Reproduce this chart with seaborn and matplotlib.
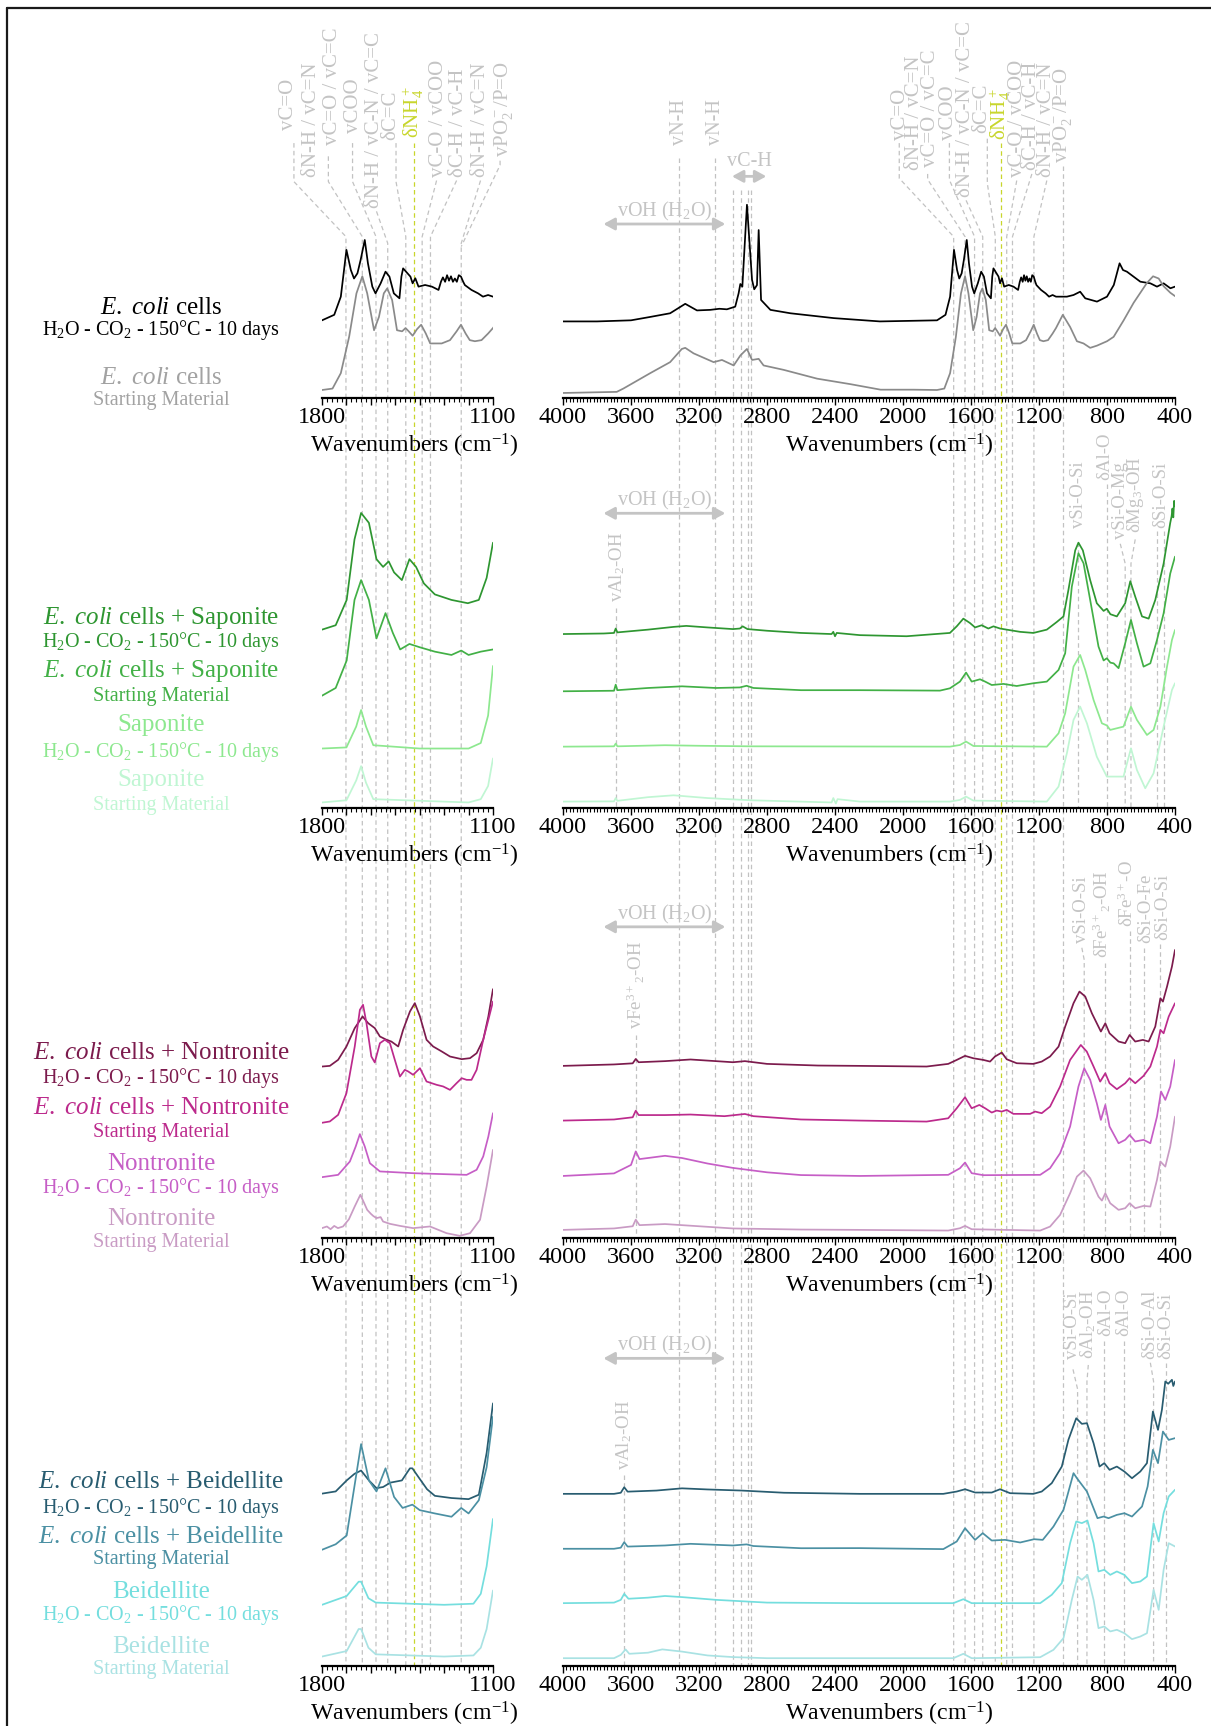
import matplotlib
matplotlib.use("Agg")
import matplotlib.pyplot as plt
import seaborn as sns
import pandas as pd
from matplotlib.lines import Line2D
from matplotlib.ticker import MultipleLocator, FixedLocator, FixedFormatter

# ------------------------------------------------------------------
# FTIR spectra (wavenumber in cm-1, absorbance in arbitrary units)
# ------------------------------------------------------------------
# E. coli cells, full range (4000-400 cm-1)
ecoli_h2o = [(4000, 0), (3800, 0), (3600, 1), (3490, 4), (3370, 7.4), (3281, 16), (3212, 10),
             (3134, 10.5), (3080, 11.5), (3036, 11), (2987, 13.4), (2967, 25.5), (2957, 34),
             (2945, 31.6), (2918, 106), (2888, 37.7), (2875, 29.2), (2859, 33), (2849, 83),
             (2835, 19.5), (2780, 10.5), (2662, 7.4), (2407, 3), (2136, 0), (1800, 1), (1750, 6),
             (1723, 22.5), (1700, 65), (1682, 46.7), (1669, 39), (1655, 43.7), (1642, 55.8),
             (1625, 74), (1612, 52.8), (1594, 31.6), (1581, 25.5), (1560, 34.6), (1540, 45.2),
             (1524, 40.7), (1506, 25.5), (1483, 21), (1475, 40.7), (1468, 48.2), (1456, 45.2),
             (1438, 40.7), (1429, 34.6), (1418, 39.2), (1405, 31.6), (1378, 33.1), (1350, 31.6),
             (1323, 28.6), (1313, 36.1), (1305, 40), (1296, 36), (1288, 42), (1280, 37), (1272, 41),
             (1264, 36), (1256, 39), (1248, 36), (1240, 42), (1231, 40.7), (1222, 36), (1215, 33),
             (1188, 28.6), (1161, 25.5), (1141, 22.5), (1120, 24), (1100, 22.5), (1036, 22.5),
             (997, 24), (958, 27), (928, 21), (859, 18), (800, 22.5), (760, 33.1), (726, 52.8),
             (706, 46.7), (683, 45.2), (604, 36.1), (545, 34.6), (506, 31.6), (467, 34.6),
             (427, 30.1), (400, 31.6)]
ecoli_sm = [(4000, 0), (3684, 1), (3645, 4), (3487, 18), (3370, 28), (3301, 40), (3281, 41),
            (3232, 36), (3114, 28), (3065, 30), (2996, 25), (2957, 34), (2918, 40), (2888, 30),
            (2849, 31), (2820, 25), (2702, 21), (2505, 13), (2309, 8), (2132, 3), (1940, 3),
            (1800, 2.7), (1757, 4), (1723, 18), (1689, 51), (1659, 90.5), (1635, 106), (1615, 90.5),
            (1587, 57), (1567, 69), (1547, 90.5), (1533, 95), (1513, 84.5), (1493, 57), (1472, 56),
            (1458, 59), (1445, 56), (1429, 52), (1411, 58), (1394, 62), (1375, 54), (1357, 45),
            (1310, 45), (1276, 48), (1249, 56), (1231, 62), (1212, 54), (1195, 48), (1174, 47),
            (1147, 48), (1120, 54), (1100, 59), (1060, 71), (1017, 60), (977, 47), (938, 45),
            (899, 41), (859, 43), (800, 47), (761, 51), (702, 66), (643, 82), (565, 100), (529, 106),
            (496, 104), (467, 97), (427, 91), (400, 88)]

# Saponite series, full range
sap_ecoli_h2o = [(4000, 1), (3760, 1.5), (3700, 2), (3690, 6), (3680, 2.5), (3500, 5), (3350, 7.5),
                 (3275, 8.4), (3150, 7), (3000, 5.5), (2960, 6), (2943, 8), (2915, 5.5), (2800, 4),
                 (2600, 2), (2420, 1), (2410, 3), (2400, -1), (2390, 2), (2254, 0), (1979, -1),
                 (1724, 2), (1684, 8), (1645, 15), (1606, 11), (1576, 7), (1537, 9), (1498, 6),
                 (1468, 8), (1429, 6), (1390, 5), (1311, 3), (1233, 2), (1154, 5), (1095, 12),
                 (1056, 17), (1027, 41), (987, 77), (968, 84), (942, 77), (899, 50), (860, 29),
                 (820, 22), (801, 24), (780, 19), (742, 17), (693, 29), (663, 49), (634, 35),
                 (594, 17), (555, 15), (516, 32), (467, 65), (428, 102), (420, 108), (415, 115),
                 (410, 107), (405, 122), (400, 117)]
sap_ecoli_sm = [(4000, 0), (3700, 0.5), (3690, 6), (3680, 1), (3500, 3), (3300, 4.5), (3100, 3),
                (2960, 3.5), (2920, 5), (2880, 3), (2600, 1), (2254, 1), (1783, 0.6), (1724, 2.7),
                (1665, 8.8), (1629, 17), (1596, 8.8), (1547, 10.9), (1517, 8.8), (1478, 5.7),
                (1409, 6.7), (1331, 4.8), (1233, 7.3), (1154, 8.8), (1085, 19.4), (1046, 34.5),
                (1007, 95), (968, 125.4), (938, 116.3), (899, 83), (850, 40.6), (820, 28), (801, 30),
                (780, 26), (761, 25.4), (732, 21), (693, 43.6), (659, 64.8), (624, 43.6), (585, 22.4),
                (545, 25.4), (506, 46.6), (467, 70.8), (428, 107), (400, 122.3)]
sap_h2o = [(4000, 0), (3700, 0.3), (3690, 2.8), (3680, 0.3), (3400, 1.3), (3200, 0.8), (2900, 0.3),
           (1724, 0), (1665, 1.5), (1629, 4.6), (1586, 0.6), (1154, 0), (1085, 12.1), (1046, 30.3),
           (997, 72.7), (958, 83.3), (928, 69.7), (879, 42.4), (830, 21.2), (801, 19.3), (781, 15.2),
           (703, 18.2), (659, 36.3), (624, 24.3), (565, 10.6), (526, 15.2), (486, 36.3), (447, 72.7),
           (418, 96.9), (400, 106)]
sap_sm = [(4000, 0), (3700, 0.2), (3690, 3.2), (3680, 0.7), (3500, 4), (3350, 5.7), (3150, 3.2),
          (2900, 1.2), (2420, -0.8), (2410, 3.2), (2395, -1.8), (2385, 2.2), (2254, 0), (1724, 0),
          (1665, 1.5), (1629, 4.5), (1586, 0.9), (1154, 0), (1085, 13.6), (1036, 43.9), (997, 74.2),
          (958, 86.3), (918, 71.1), (860, 40.8), (801, 22.7), (703, 22.7), (659, 48.4), (624, 28.7),
          (575, 12.1), (526, 25.7), (467, 68.1), (418, 101.4), (400, 107.5)]

# Saponite series, 1800-1100 cm-1 expansion
sap_ecoli_h2o_zoom = [(1800, 0), (1744, 4), (1699, 27), (1667, 82), (1640, 106), (1608, 97),
                      (1577, 64), (1550, 57), (1527, 62), (1505, 52), (1473, 45), (1442, 64),
                      (1415, 57), (1383, 42), (1338, 32), (1270, 27), (1203, 24), (1158, 27),
                      (1126, 47), (1100, 79)]
sap_ecoli_sm_zoom = [(1800, 0), (1744, 7), (1699, 32), (1667, 87), (1640, 105), (1608, 87),
                     (1577, 52), (1540, 75), (1510, 57), (1480, 42), (1442, 47), (1400, 44),
                     (1338, 40), (1270, 37), (1230, 41), (1200, 37), (1150, 40), (1100, 42)]
sap_h2o_zoom = [(1800, 0), (1700, 1), (1660, 20), (1640, 35), (1620, 20), (1590, 3), (1400, 0),
                (1200, 0), (1150, 5), (1120, 30), (1100, 75)]
sap_sm_zoom = [(1800, 0), (1700, 2), (1660, 20), (1640, 33), (1620, 18), (1590, 3), (1200, 0),
               (1150, 3), (1120, 15), (1100, 40)]

# Nontronite series, full range
non_ecoli_h2o = [(4000, 0), (3700, 1.3), (3590, 2.3), (3572, 6.3), (3555, 3.3), (3400, 4.3),
                 (3250, 5.8), (3000, 3.3), (2930, 4.3), (2800, 1.8), (2500, 0.3), (2254, 0),
                 (1861, -0.6), (1734, 1.8), (1684, 5.4), (1635, 9.1), (1586, 6.9), (1527, 5.4),
                 (1488, 3.9), (1459, 8.5), (1419, 12.1), (1390, 6), (1331, 2.4), (1233, 1.8),
                 (1184, 3.9), (1135, 8.5), (1085, 17.5), (1046, 35.7), (997, 56.9), (962, 67.5),
                 (928, 63), (889, 47.8), (860, 38.7), (836, 31.2), (810, 38.7), (785, 29.6),
                 (732, 22.1), (693, 20.6), (667, 28.1), (634, 22.1), (589, 23.6), (555, 22.1),
                 (516, 35.7), (486, 61.4), (471, 58.4), (447, 72), (418, 90.2), (400, 105.3)]
non_ecoli_sm = [(4000, 0), (3700, 1), (3590, 3), (3572, 9), (3555, 5), (3400, 5), (3250, 5.5),
                (3050, 4), (2930, 6), (2880, 4), (2600, 1), (2254, 0), (1861, -0.9), (1734, 2.1),
                (1684, 11.2), (1635, 21.2), (1596, 11.2), (1551, 14.2), (1517, 11.2), (1478, 7.3),
                (1449, 9.1), (1419, 8.2), (1390, 9.7), (1351, 6.1), (1252, 6.1), (1223, 8.2),
                (1184, 6.7), (1135, 12.7), (1076, 30.9), (1017, 55.1), (954, 68.7), (919, 62.7),
                (879, 49.1), (840, 35.4), (810, 43), (785, 33.9), (742, 28.5), (693, 33.9),
                (667, 38.5), (634, 33.9), (585, 40.6), (545, 49.1), (506, 67.2), (486, 82.4),
                (467, 79.3), (437, 94.5), (400, 106.6)]
non_h2o = [(4000, 0), (3700, 2.3), (3600, 10), (3572, 22.3), (3550, 15.3), (3500, 16.3),
           (3400, 18.3), (3300, 16.3), (3150, 11.3), (3000, 7.3), (2800, 3.3), (2600, 0.8),
           (2254, 0), (1734, 1), (1665, 7), (1635, 12.2), (1596, 2.5), (1527, 0.7), (1193, 1),
           (1135, 7), (1076, 20.6), (1017, 44.9), (968, 81.2), (934, 97.8), (899, 87.3), (860, 66.1),
           (836, 50.9), (810, 64.5), (785, 44.9), (732, 29.7), (693, 32.8), (667, 37.3), (634, 31.3),
           (585, 32.8), (545, 29.7), (506, 53.9), (482, 76.7), (457, 69.1), (428, 81.2), (400, 105.4)]
non_sm = [(4000, 0), (3700, 1.3), (3590, 3.3), (3572, 9.3), (3550, 4.3), (3400, 5.3), (3200, 3.3),
          (3000, 1.3), (2600, 0.3), (2254, 0), (1734, -0.6), (1665, 1.5), (1635, 3.6), (1596, 0.6),
          (1193, -0.6), (1135, 3), (1076, 13.6), (1017, 33.3), (977, 48.4), (938, 53.9), (899, 46.9),
          (850, 30.2), (830, 26.6), (810, 33.3), (781, 24.2), (732, 18.2), (693, 19.7), (667, 24.2),
          (634, 19.7), (585, 21.8), (545, 21.2), (506, 45.4), (486, 62.1), (457, 57.5), (428, 75.7),
          (400, 102.9)]

# Nontronite series, 1800-1100 cm-1 expansion
non_ecoli_h2o_zoom = [(1800, 0), (1768, 0.6), (1734, 6.1), (1700, 18.2), (1666, 34.9), (1634, 45.5),
                      (1611, 39.4), (1584, 34.9), (1563, 27.3), (1536, 24.3), (1516, 22.7),
                      (1488, 18.2), (1468, 33.3), (1440, 50), (1420, 57.6), (1399, 45.5),
                      (1372, 24.3), (1345, 18.2), (1310, 13.7), (1276, 9.1), (1228, 6.7),
                      (1194, 7.6), (1167, 12.1), (1140, 24.3), (1119, 45.5), (1100, 70.3)]
non_ecoli_sm_zoom = [(1800, 0), (1768, 1.2), (1734, 7.2), (1700, 26.9), (1666, 69.3), (1645, 102.6),
                     (1632, 107.2), (1618, 90.5), (1598, 60.2), (1584, 54.8), (1563, 72.3),
                     (1543, 75.4), (1522, 72.3), (1502, 57.2), (1481, 42), (1461, 48.1),
                     (1447, 46.6), (1427, 43.6), (1399, 49.6), (1372, 37.5), (1331, 34.5),
                     (1304, 33), (1276, 29.9), (1249, 36), (1228, 40.5), (1208, 39), (1188, 39),
                     (1167, 48.1), (1140, 75.4), (1119, 93.5), (1100, 110.2)]
non_h2o_zoom = [(1800, 0), (1734, 2.1), (1686, 14.2), (1662, 27.9), (1645, 39.1), (1625, 27.9),
                (1604, 12.7), (1563, 5.2), (1427, 3.6), (1208, 2.1), (1167, 6.7), (1140, 18.8),
                (1119, 36.9), (1100, 58.1)]
non_sm_zoom = [(1800, 0), (1780, 1.5), (1765, -1), (1750, 2), (1735, 0), (1714, 1.5), (1690, 8),
               (1666, 19.7), (1643, 30.3), (1630, 24), (1615, 16.6), (1600, 13), (1590, 11),
               (1577, 9.1), (1560, 10), (1550, 6), (1522, 3.9), (1480, 2), (1427, 0), (1358, 1.5),
               (1290, -4.6), (1236, -7), (1194, -4.6), (1153, 7.6), (1126, 37.8), (1100, 71.1)]

# Beidellite series, full range
bei_ecoli_h2o = [(4000, 0), (3700, 0), (3660, 1), (3640, 6), (3620, 2), (3450, 3), (3300, 5),
                 (3150, 4), (2950, 3), (2700, 1), (2254, 0), (1763, 0), (1684, 2.1), (1635, 4.2),
                 (1576, 1.2), (1478, 1.2), (1429, 4.2), (1370, 0.6), (1233, 0), (1184, 2.1),
                 (1125, 9.7), (1066, 24.8), (1027, 49.1), (981, 68.7), (948, 63.6), (918, 64.2),
                 (879, 46), (844, 24.8), (816, 27.9), (785, 21.8), (742, 24.8), (698, 20.3),
                 (653, 14.2), (604, 20.3), (565, 27.9), (530, 74.8), (500, 58.1), (477, 76.3),
                 (457, 102.1), (440, 100), (418, 103.6), (410, 98), (400, 102.1)]
bei_ecoli_sm = [(4000, 0), (3700, 0), (3660, 1), (3640, 6), (3620, 2), (3400, 3), (3250, 4.5),
                (3000, 3), (2920, 4), (2880, 2.5), (2600, 0.5), (2254, 0.6), (1763, -0.3),
                (1684, 6.6), (1635, 18.7), (1576, 8.1), (1531, 14.2), (1478, 7.5), (1400, 8.1),
                (1311, 5.7), (1229, 8.7), (1178, 8.1), (1115, 20.2), (1056, 35.4), (997, 68.7),
                (977, 64.1), (918, 52), (856, 27.8), (820, 29.3), (791, 27.8), (742, 30.8),
                (698, 32.3), (653, 29.3), (594, 38.4), (561, 56.6), (530, 89.9), (500, 77.8),
                (471, 106.5), (437, 98.9), (400, 100.5)]
bei_h2o = [(4000, 0), (3700, 0.5), (3660, 3), (3640, 8.5), (3615, 4), (3500, 5), (3400, 6.5),
           (3300, 5.5), (3100, 3), (2800, 0.5), (2254, 0), (1704, 0), (1645, 3.6), (1596, 0),
           (1193, 0), (1125, 7.6), (1066, 18.2), (1017, 54.5), (981, 74.2), (948, 72.7), (915, 75.1),
           (879, 54.5), (850, 28.8), (816, 30.3), (781, 25.7), (742, 28.8), (698, 25.7), (653, 18.2),
           (604, 19.7), (565, 24.2), (526, 72.7), (496, 56), (467, 81.8), (437, 96.9), (400, 103)]
bei_sm = [(4000, 0), (3700, 0), (3660, 3), (3632, 8), (3610, 4), (3500, 5), (3416, 8), (3300, 6),
          (3150, 2.5), (3000, 1), (2800, 0), (1704, 0), (1645, 4), (1596, 0), (1193, 0.9),
          (1115, 7.6), (1056, 18.2), (1007, 53), (973, 74.2), (948, 71.2), (915, 75.7), (879, 53),
          (850, 27.3), (816, 28.8), (781, 24.3), (742, 25.8), (698, 22.7), (653, 17.3), (604, 19.7),
          (565, 22.7), (526, 62.1), (496, 43.9), (467, 80.3), (437, 104.5), (400, 101.5)]

# Beidellite series, 1800-1100 cm-1 expansion
bei_ecoli_h2o_zoom = [(1800, 0), (1744, 2), (1699, 12), (1667, 18), (1640, 21), (1608, 12),
                      (1577, 5), (1550, 6), (1520, 10), (1473, 12), (1440, 23), (1430, 23),
                      (1405, 15), (1370, 4), (1338, -2), (1270, -4), (1200, -5), (1158, -1),
                      (1126, 37), (1100, 82)]
bei_ecoli_sm_zoom = [(1800, 0), (1744, 5), (1699, 13), (1667, 58), (1640, 96), (1608, 63),
                     (1577, 53), (1540, 74), (1505, 48), (1470, 38), (1430, 41), (1400, 36),
                     (1338, 33), (1270, 30), (1230, 38), (1200, 33), (1158, 45), (1126, 75),
                     (1100, 121)]
bei_h2o_zoom = [(1800, 0), (1699, 8), (1650, 21), (1640, 21), (1610, 6), (1580, 2), (1300, 0),
                (1180, 1), (1150, 10), (1126, 35), (1100, 78)]
bei_sm_zoom = [(1800, 0), (1699, 5), (1650, 25), (1640, 25), (1610, 8), (1580, 2), (1300, 0),
               (1180, 1), (1150, 8), (1126, 25), (1100, 60)]

# Band assignments (cm-1)
nh4_band = 1425
nh_bands = [3315, 3105]
ch_bands = [3002, 2955, 2912, 2893]
water_oh_range = (3762, 3045)
ch_range = (3006, 2804)

# Sample names
cond = r"H$_2$O - CO$_2$ - 150°C - 10 days"
start = "Starting Material"
ecoli = r"$\mathit{E.\ coli}$ cells"

# ------------------------------------------------------------------
# Style
# ------------------------------------------------------------------
sns.set_theme(style="white")
plt.rcParams["font.family"] = ["Liberation Serif", "DejaVu Serif"]
plt.rcParams["mathtext.fontset"] = "custom"
plt.rcParams["mathtext.rm"] = "Liberation Serif"
plt.rcParams["mathtext.it"] = "Liberation Serif:italic"
plt.rcParams["mathtext.bf"] = "Liberation Serif:bold"

ANN = "#c4c4c4"
DASH = "#c2c2c2"
YEL = "#c8d62c"
GRAY_LINE, GRAY_TXT = "#8a8a8a", "#a2a2a2"
GREENS = ["#2e9631", "#42b046", "#8de88f", "#c0f6d3"]
PINKS = ["#7c1b4d", "#bc2a8c", "#c65ec6", "#c99bc4"]
TEALS = ["#285c70", "#4b90a3", "#74dede", "#a9e2e3"]

# layout grid: 1100 x 1568 units over the whole figure
GW, GH = 1100.0, 1568.0


def fx(x):
    return x / GW


def fy(y):
    return 1 - y / GH


fig = plt.figure(figsize=(12.11, 17.26), dpi=100)

LX = (292.5, 447.8)
RX = (511.4, 1067.3)
BOTTOM = 1513.9

rows = [
    dict(axis=361.8, top=140,
         traces=[(ecoli_h2o, ecoli_h2o, 69.8, 69.8, "#000000"),
                 (ecoli_sm, ecoli_sm, 4.8, 4.8, GRAY_LINE)],
         labels=[(ecoli, 280, 18, "#000000"), (cond, 300, 14.5, "#000000"),
                 (ecoli, 343, 18, GRAY_TXT), (start, 364, 14.5, GRAY_TXT)]),
    dict(axis=734.3, top=430,
         traces=[(sap_ecoli_h2o, sap_ecoli_h2o_zoom, 157.3, 162.3, GREENS[0]),
                 (sap_ecoli_sm, sap_ecoli_sm_zoom, 106.3, 102.3, GREENS[1]),
                 (sap_h2o, sap_h2o_zoom, 56.0, 54.3, GREENS[2]),
                 (sap_sm, sap_sm_zoom, 6.1, 5.3, GREENS[3])],
         labels=[(ecoli + " + Saponite", 561, 18, GREENS[0]), (cond, 583, 14.5, GREENS[0]),
                 (ecoli + " + Saponite", 610, 18, GREENS[1]), (start, 633, 14.5, GREENS[1]),
                 ("Saponite", 659, 18, GREENS[2]), (cond, 683, 14.5, GREENS[2]),
                 ("Saponite", 709, 18, GREENS[3]), (start, 732, 14.5, GREENS[3])]),
    dict(axis=1124.9, top=820,
         traces=[(non_ecoli_h2o, non_ecoli_h2o_zoom, 156.6, 156.0, PINKS[0]),
                 (non_ecoli_sm, non_ecoli_sm_zoom, 106.9, 104.9, PINKS[1]),
                 (non_h2o, non_h2o_zoom, 56.6, 55.5, PINKS[2]),
                 (non_sm, non_sm_zoom, 7.6, 9.2, PINKS[3])],
         labels=[(ecoli + " + Nontronite", 957, 18, PINKS[0]), (cond, 979, 14.5, PINKS[0]),
                 (ecoli + " + Nontronite", 1007, 18, PINKS[1]), (start, 1029, 14.5, PINKS[1]),
                 ("Nontronite", 1057, 18, PINKS[2]), (cond, 1079, 14.5, PINKS[2]),
                 ("Nontronite", 1107, 18, PINKS[3]), (start, 1129, 14.5, PINKS[3])]),
    dict(axis=1513.9, top=1210,
         traces=[(bei_ecoli_h2o, bei_ecoli_h2o_zoom, 156.8, 157.0, TEALS[0]),
                 (bei_ecoli_sm, bei_ecoli_sm_zoom, 106.9, 106.0, TEALS[1]),
                 (bei_h2o, bei_h2o_zoom, 57.5, 56.0, TEALS[2]),
                 (bei_sm, bei_sm_zoom, 7.5, 9.0, TEALS[3])],
         labels=[(ecoli + " + Beidellite", 1346, 18, TEALS[0]), (cond, 1370, 14.5, TEALS[0]),
                 (ecoli + " + Beidellite", 1396, 18, TEALS[1]), (start, 1417, 14.5, TEALS[1]),
                 ("Beidellite", 1446, 18, TEALS[2]), (cond, 1467, 14.5, TEALS[2]),
                 ("Beidellite", 1496, 18, TEALS[3]), (start, 1517, 14.5, TEALS[3])]),
]


def trace(ax, pts, offset, color):
    df = pd.DataFrame(pts, columns=["wavenumber", "absorbance"])
    df["absorbance"] = df["absorbance"] + offset
    sns.lineplot(data=df, x="wavenumber", y="absorbance", ax=ax, color=color, lw=1.25,
                 sort=False, estimator=None, legend=False)


def style_axis(ax, xlim, ylim, major, labels, minor):
    ax.set_xlim(*xlim)
    ax.set_ylim(*ylim)
    ax.patch.set_visible(False)
    for s in ("left", "right", "top"):
        ax.spines[s].set_visible(False)
    ax.spines["bottom"].set_color("black")
    ax.spines["bottom"].set_linewidth(1.6)
    ax.set_yticks([])
    ax.xaxis.set_major_locator(FixedLocator(major))
    ax.xaxis.set_major_formatter(FixedFormatter(labels))
    ax.xaxis.set_minor_locator(MultipleLocator(minor))
    ax.tick_params(axis="x", which="major", bottom=True, direction="out", length=4.8, width=1.0,
                   color="black", pad=1.2, labelsize=17.5, labelcolor="black")
    ax.tick_params(axis="x", which="minor", bottom=True, direction="out", length=2.6, width=0.8,
                   color="black")
    ax.set_xlabel("")
    ax.set_ylabel("")


# overlay axes carrying the band markers (y in layout units, top = 0)
annL = fig.add_axes([fx(LX[0]), 0, fx(LX[1] - LX[0]), 1], zorder=0)
annR = fig.add_axes([fx(RX[0]), 0, fx(RX[1] - RX[0]), 1], zorder=0)
for a, xl in ((annL, (1800, 1100)), (annR, (4000, 400))):
    a.set_xlim(*xl)
    a.set_ylim(GH, 0)
    a.axis("off")

left_major = list(range(1800, 1099, -100))
left_lab = ["1800"] + [""] * 6 + ["1100"]
right_major = list(range(4000, 399, -400))
right_lab = [str(v) for v in right_major]

for r in rows:
    h = r["axis"] - r["top"]
    axL = fig.add_axes([fx(LX[0]), fy(r["axis"]), fx(LX[1] - LX[0]), h / GH], zorder=2)
    axR = fig.add_axes([fx(RX[0]), fy(r["axis"]), fx(RX[1] - RX[0]), h / GH], zorder=2)
    for full, zoom, offR, offL, col in r["traces"]:
        trace(axR, full, offR, col)
        trace(axL, zoom, offL, col)
    style_axis(axL, (1800, 1100), (0, h), left_major, left_lab, 20)
    style_axis(axR, (4000, 400), (0, h), right_major, right_lab, 20)
    for txt, y, size, col in r["labels"]:
        fig.text(fx(146.5), fy(y), txt, ha="center", va="center", fontsize=size, color=col)
    for xc in (376, 808):
        fig.text(fx(xc), fy(r["axis"] + 43.5), r"Wavenumbers (cm$^{-1}$)", ha="center",
                 va="center", fontsize=17.2, color="black")

dash = dict(lw=0.9, linestyle=(0, (3.6, 2.6)), clip_on=False)

NH4 = r"δNH$_4^+$"
PO2 = r"vPO$_2^-$/P=O"

# band labels above the first row: (text, label x, label bottom, leader)
# leader = (start x, start y, bend y, band x, band y, end y); end None runs to the last axis
top_left = [
    ("vC=O", 1938, 118.0, (1915, 130, 165, 1702, 215, None)),
    ("δN-H / vC=N", 1842, 160.5, None),
    ("vC=O / vC=C", 1756, 131.7, (1774, 142, 165, 1635, 215, None)),
    ("vCOO", 1672, 120.8, (1675, 130, 165, 1579, 215, None)),
    ("δN-H / vC-N / vC=C", 1587, 189.0, (1577, 192, 192, 1531, 221, None)),
    ("δC=C", 1519, 127.0, (1497, 130, 165, 1457, 215, None)),
    (NH4, 1425, 125.4, (1425, 130, 165, 1425, 215, None)),
    ("vC-O / vCOO", 1324, 160.8, (1331, 164, 164, 1390, 215, None)),
    ("δC-H / vC-H", 1242, 160.8, (1249, 164, 164, 1356, 215, None)),
    ("δN-H / vC=N", 1153, 160.8, (1151, 164, 164, 1230, 221, None)),
    (PO2, 1058, 142.6, (1071, 146, 150, 1230, 224, 224)),
]
top_right = [
    ("vC=O", 2014, 127.2, (2022, 130, 162, 1702, 215, None)),
    ("δN-H / vC=N", 1932, 154.4, None),
    ("vC=O / vC=C", 1836, 151.4, (1855, 158, 163, 1635, 215, None)),
    ("vCOO", 1733, 127.2, (1727, 130, 163.5, 1579, 215, None)),
    ("δN-H / vC-N / vC=C", 1635, 178.6, (1629, 182, 182, 1531, 215, None)),
    ("δC=C", 1537, 121.1, (1504, 126, 166.5, 1457, 215, None)),
    (NH4, 1428, 127.2, (1425, 130, 165, 1425, 215, None)),
    ("vC-O / vCOO", 1328, 160.5, (1331, 164, 164, 1390, 215, None)),
    ("δC-H / vC-H", 1242, 154.4, (1242, 158, 158, 1356, 215, None)),
    ("δN-H / vC=N", 1154, 160.5, (1154, 164, 164, 1230, 215, None)),
    (PO2, 1060, 148.4, (1061, 151, 151, 1061, 215, None)),
]

for ax, items in ((annL, top_left), (annR, top_right)):
    for txt, xl, yb, lead in items:
        col = YEL if txt == NH4 else ANN
        ax.text(xl, yb, txt, rotation=90, ha="center", va="bottom", fontsize=15, color=col,
                clip_on=False)
        if lead is not None:
            x0, y0, y1, band, y2, yend = lead
            yend = BOTTOM if yend is None else yend
            lc = YEL if txt == NH4 else DASH
            ax.plot([x0, x0, band, band], [y0, y1, y2, yend], color=lc, **dash)

# N-H and C-H stretching markers
for b in nh_bands:
    annR.text(b, 131.7, "vN-H", rotation=90, ha="center", va="bottom", fontsize=14.5, color=ANN)
    annR.plot([b, b], [143.8, BOTTOM], color=DASH, **dash)
for b in ch_bands:
    annR.plot([b, b], [172.6, BOTTOM], color=DASH, **dash)
annR.annotate("", xy=(ch_range[1], 160.2), xytext=(ch_range[0], 160.2),
              arrowprops=dict(arrowstyle="<|-|>,head_length=0.55,head_width=0.3", color=ANN,
                              lw=2.0, shrinkA=0, shrinkB=0))
annR.text(sum(ch_range) / 2, 146.9, "vC-H", ha="center", va="center", fontsize=14.5, color=ANN)

# water O-H stretching range, repeated on every row
for ya in (203.5, 466.3, 842.0, 1234.0):
    annR.annotate("", xy=(water_oh_range[1], ya), xytext=(water_oh_range[0], ya),
                  arrowprops=dict(arrowstyle="<|-|>,head_length=0.55,head_width=0.3", color=ANN,
                                  lw=2.0, shrinkA=0, shrinkB=0))
    annR.text(sum(water_oh_range) / 2, ya - 11.5, r"vOH (H$_2$O)", ha="center", va="center",
              fontsize=14.5, color=ANN)

# clay lattice bands: (text, label x, label bottom, leader (x0, y0, y1, band, y2), row axis)
clay_marks = [
    (r"vAl$_2$-OH", 3684, 546.6, (3688, 552, 552, 3688, 552), 734.3),
    ("vSi-O-Si", 968, 480, (968, 492, 492, 968, 492), 734.3),
    ("δAl-O", 812, 436, (801, 440, 440, 801, 440), 734.3),
    ("vSi-O-Mg", 722, 490, (722, 494, 494, 693, 512), 734.3),
    (r"δMg$_3$-OH", 632, 484, (634, 490, 490, 659, 512), 734.3),
    ("δSi-O-Si", 486, 480, (506, 482, 482, 506, 482), 734.3),
    (None, 463, 0, (463, 482, 482, 463, 482), 734.3),
    (r"vFe$^{3+}$$_2$-OH", 3572, 935, (3572, 940, 940, 3572, 940), 1124.9),
    ("vSi-O-Si", 952, 857, (948, 861, 861, 934, 872), 1124.9),
    (r"δFe$^{3+}$$_2$-OH", 830, 870, (810, 875, 875, 810, 875), 1124.9),
    (r"δFe$^{3+}$-O", 683, 842, (667, 846, 846, 667, 846), 1124.9),
    ("δSi-O-Fe", 575, 857, (585, 861, 861, 585, 861), 1124.9),
    ("δSi-O-Si", 475, 854, (486, 858, 858, 486, 858), 1124.9),
    (r"vAl$_2$-OH", 3643, 1335, (3643, 1340, 1340, 3643, 1340), 1513.9),
    ("vSi-O-Si", 1003, 1235, (1000, 1244, 1244, 973, 1262), 1513.9),
    (r"δAl$_2$-OH", 908, 1235, (910, 1240, 1240, 918, 1255), 1513.9),
    ("δAl-O", 810, 1214, (816, 1218, 1218, 816, 1218), 1513.9),
    ("δAl-O", 702, 1214, (698, 1218, 1218, 698, 1218), 1513.9),
    ("δSi-O-Al", 548, 1235, (545, 1238, 1238, 526, 1255), 1513.9),
    ("δSi-O-Si", 452, 1235, (451, 1238, 1238, 451, 1238), 1513.9),
]
for txt, xl, yb, (x0, y0, y1, band, y2), yend in clay_marks:
    if txt is not None:
        annR.text(xl, yb, txt, rotation=90, ha="center", va="bottom", fontsize=13.5, color=ANN,
                  clip_on=False)
    annR.plot([x0, x0, band, band], [y0, y1, y2, yend], color=DASH, **dash)

# outer frame
fig.add_artist(Line2D([fx(6.5), fx(6.5)], [fy(7), 0], transform=fig.transFigure,
                      color="#1a1a1a", lw=1.6))
fig.add_artist(Line2D([fx(6.5), 1], [fy(7), fy(7)], transform=fig.transFigure,
                      color="#1a1a1a", lw=1.6))

fig.savefig("out.png", dpi=100, facecolor="white")
